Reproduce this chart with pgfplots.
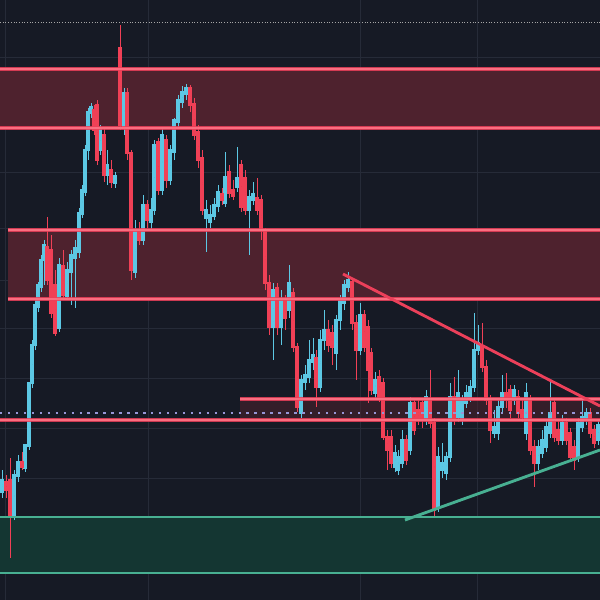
\documentclass[border=0pt]{standalone}
\usepackage{pgfplots}
\usepackage{pgfplotstable}
\pgfplotsset{compat=1.18}

\definecolor{bg}{RGB}{22,26,37}
\definecolor{gridc}{RGB}{38,43,56}
\definecolor{redzone}{RGB}{78,34,46}
\definecolor{redline}{RGB}{236,64,90}
\definecolor{redcore}{RGB}{250,110,128}
\definecolor{tealzone}{RGB}{20,54,50}
\definecolor{tealline}{RGB}{72,176,146}
\definecolor{bull}{RGB}{92,200,228}
\definecolor{bear}{RGB}{240,64,86}
\definecolor{dotc}{RGB}{150,150,215}

% candles, in pixel rows of the picture (y grows downwards)
\pgfplotstableread{
x o h l c
2 492 470 498 480
6 482 475 498 490
10 480 458 558 517
14 517 470 520 475
18 476 455 482 462
22 462 452 470 467
25 468 445 472 445
29 446 405 450 383
32 383 340 388 345
35 345 300 350 305
38 307 282 312 285
41 287 255 292 260
44 260 240 285 245
47 247 217 285 280
51 250 235 318 313
55 285 270 336 333
59 328 258 332 265
63 266 250 300 295
67 296 262 300 270
71 272 250 305 255
75 258 240 308 248
79 252 208 258 213
82 214 185 218 190
85 192 145 196 150
88 150 108 160 112
91 113 103 118 107
94 110 105 135 130
97 105 100 165 160
100 150 125 155 130
104 135 128 182 175
107 175 150 185 165
111 170 160 188 182
115 183 172 188 176
120 48 25 130 125
124 128 88 135 93
127 93 88 160 153
131 153 150 280 270
135 272 220 278 230
139 232 222 245 240
143 240 195 245 205
147 205 200 228 220
151 222 198 230 210
154 210 140 215 145
158 142 138 195 190
162 190 128 195 135
166 140 135 188 180
170 180 145 185 150
174 152 118 160 120
178 122 95 128 100
182 102 86 108 92
186 94 84 100 88
190 88 85 112 105
194 104 98 140 135
198 132 125 168 160
202 158 150 215 210
206 218 200 252 210
210 222 205 228 215
214 216 198 220 205
218 206 185 212 192
222 194 188 205 200
225 203 152 207 177
229 172 165 198 193
233 190 180 200 196
237 187 147 192 178
241 165 160 212 207
245 178 170 215 210
249 210 190 255 197
253 200 182 205 194
257 198 178 215 210
261 200 195 240 230
265 230 228 290 283
269 283 275 335 327
273 327 283 360 290
277 288 283 335 327
281 327 290 345 300
285 300 295 330 318
289 310 265 318 283
293 293 288 352 347
297 347 343 412 407
301 413 375 418 380
305 382 365 390 375
309 377 340 383 360
313 362 338 370 355
316 358 350 407 387
320 387 330 392 340
324 340 310 350 330
328 330 320 352 345
332 333 325 365 347
336 353 315 370 320
340 320 295 330 300
344 303 280 310 285
348 287 272 292 280
352 282 278 330 323
356 323 315 380 350
360 350 303 355 315
364 315 310 352 347
368 327 320 403 370
371 353 348 395 390
375 393 372 398 380
379 377 370 402 397
383 383 378 440 437
387 437 430 470 450
391 437 430 468 463
395 467 445 472 453
398 470 450 475 457
402 463 430 468 440
406 440 435 465 460
410 450 397 455 403
414 403 398 435 430
418 410 400 425 420
422 403 398 428 420
426 420 390 425 397
430 400 370 428 423
434 423 418 517 510
438 507 447 512 457
442 470 443 478 463
446 473 452 480 457
450 457 383 462 397
454 397 377 425 420
458 417 370 422 393
462 420 395 425 400
466 403 385 408 393
470 397 380 402 387
474 387 313 392 350
478 350 325 355 343
482 347 323 372 367
486 367 360 405 400
490 400 395 443 430
494 433 410 438 427
498 433 400 440 407
502 407 375 412 393
506 393 373 408 400
510 390 385 418 410
514 400 385 405 390
518 397 390 418 413
522 410 400 422 417
526 433 383 440 393
530 400 395 455 450
534 447 440 487 463
538 463 440 470 447
542 453 430 458 440
546 447 420 452 427
550 433 380 438 413
554 403 398 442 437
558 430 420 445 440
562 440 415 445 423
566 423 418 445 440
570 433 428 462 457
574 447 440 470 460
578 457 418 462 423
582 427 400 432 417
586 420 408 425 413
590 413 408 438 433
594 430 425 448 443
598 440 420 445 425
}\candles

\pgfplotsset{
  candle/.style n args={3}{only marks, mark=*, mark size=0pt,
    mark options={draw=none, fill=none},
    restrict expr to domain={#1}{0:1000},
    error bars/.cd, y dir=both, y explicit, error mark=none,
    error bar style={line width=#2, draw=#3}},
  glow/.style={redline, line width=2.4pt, opacity=0.85},
  core/.style={redcore, line width=0.7pt},
}

\begin{document}
\begin{tikzpicture}
\begin{axis}[
  name=ax,
  width=400pt, height=400pt, scale only axis,
  xmin=0, xmax=600, ymin=0, ymax=600,
  y dir=reverse,
  axis line style={draw=none},
  ticks=none,
  axis background/.style={fill=bg},
  clip=true,
]
% grid
\addplot[gridc, line width=0.5pt] coordinates {(5,0) (5,600)};
\addplot[gridc, line width=0.5pt] coordinates {(148,0) (148,600)};
\addplot[gridc, line width=0.5pt] coordinates {(360,0) (360,600)};
\addplot[gridc, line width=0.5pt] coordinates {(477,0) (477,600)};
\foreach \gy in {57,115,172,228,280,328,378,428,478,528} {
  \edef\tmp{\noexpand\addplot[gridc, line width=0.5pt] coordinates {(0,\gy) (600,\gy)};}
  \tmp
}

% zones
\addplot[fill=redzone, draw=none] coordinates {(0,69) (600,69) (600,128) (0,128)};
\addplot[fill=redzone, draw=none] coordinates {(8,230) (600,230) (600,299) (8,299)};
\addplot[fill=redzone, fill opacity=0.55, draw=none] coordinates {(240,399) (600,399) (600,420) (240,420)};
\addplot[fill=tealzone, draw=none] coordinates {(0,517) (600,517) (600,573) (0,573)};

% wicks
\addplot[candle={\thisrow{o}-\thisrow{c}}{0.65pt}{bull}]
  table[x=x, y expr={(\thisrow{h}+\thisrow{l})/2}, y error expr={(\thisrow{l}-\thisrow{h})/2}] {\candles};
\addplot[candle={\thisrow{c}-\thisrow{o}}{0.65pt}{bear}]
  table[x=x, y expr={(\thisrow{h}+\thisrow{l})/2}, y error expr={(\thisrow{l}-\thisrow{h})/2}] {\candles};
% bodies
\addplot[candle={\thisrow{o}-\thisrow{c}}{2.1pt}{bull}]
  table[x=x, y expr={(\thisrow{o}+\thisrow{c})/2}, y error expr={abs(\thisrow{o}-\thisrow{c})/2+0.6}] {\candles};
\addplot[candle={\thisrow{c}-\thisrow{o}}{2.1pt}{bear}]
  table[x=x, y expr={(\thisrow{o}+\thisrow{c})/2}, y error expr={abs(\thisrow{o}-\thisrow{c})/2+0.6}] {\candles};

% levels
\addplot[gray!70, line width=0.6pt, dash pattern=on 0.6pt off 1.2pt] coordinates {(0,22) (600,22)};
\addplot[glow] coordinates {(0,69) (600,69)};
\addplot[core] coordinates {(0,69) (600,69)};
\addplot[glow] coordinates {(0,128) (600,128)};
\addplot[core] coordinates {(0,128) (600,128)};
\addplot[glow] coordinates {(8,230) (600,230)};
\addplot[core] coordinates {(8,230) (600,230)};
\addplot[glow] coordinates {(8,299) (600,299)};
\addplot[core] coordinates {(8,299) (600,299)};
\addplot[glow] coordinates {(240,399) (600,399)};
\addplot[core] coordinates {(240,399) (600,399)};
\addplot[dotc, line width=1.6pt, dash pattern=on 1.6pt off 3.7pt] coordinates {(0,413) (600,413)};
\addplot[glow] coordinates {(0,420) (600,420)};
\addplot[core] coordinates {(0,420) (600,420)};
\addplot[tealline, line width=1.7pt] coordinates {(0,517) (600,517)};
\addplot[tealline, line width=1.7pt] coordinates {(0,573) (600,573)};

% trend lines
\addplot[redline, line width=1.9pt] coordinates {(343,274) (600,406)};
\addplot[tealline, line width=1.9pt] coordinates {(405,520) (600,450)};
\end{axis}
\pgfresetboundingbox
\path (ax.south west) rectangle (ax.north east);
\end{tikzpicture}
\end{document}
